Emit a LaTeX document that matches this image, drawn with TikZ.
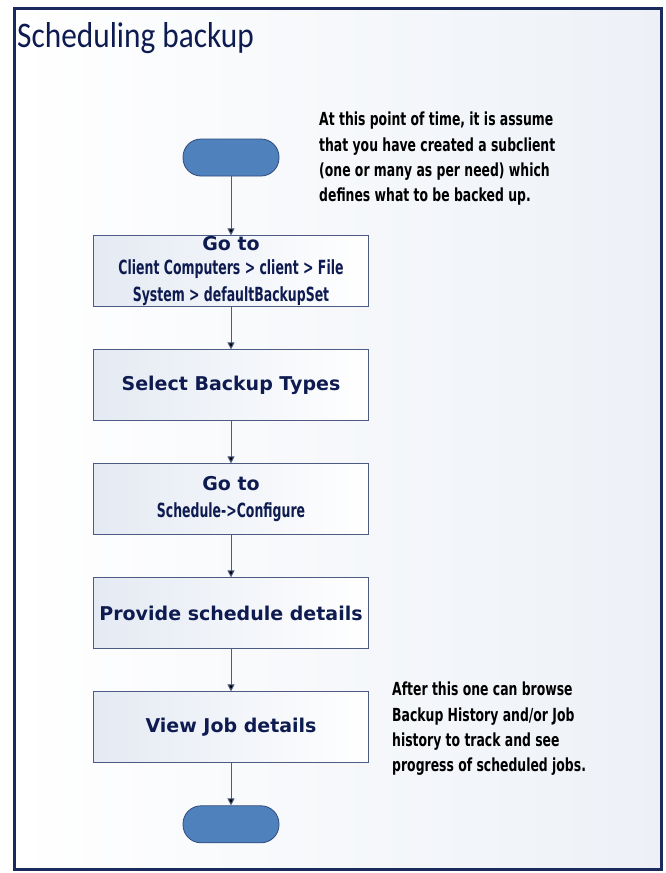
\documentclass[tikz,border=0pt]{standalone}
\usepackage{fontspec}
\setmainfont{Carlito}
\newfontfamily\titlefont[FakeStretch=0.87]{Carlito}
\newfontfamily\boxfont{DejaVu Sans}
\newfontfamily\notefont[FakeStretch=0.64]{DejaVu Sans}
\newfontfamily\commentfont[FakeStretch=0.69]{DejaVu Sans}
\usetikzlibrary{positioning}
\usetikzlibrary{arrows.meta}
\definecolor{navy}{HTML}{0E1B50}
\definecolor{frameblue}{HTML}{1B2A5C}
\definecolor{termblue}{HTML}{4F81BD}
\definecolor{termedge}{HTML}{2E4A7A}
\definecolor{boxedge}{HTML}{4D5B82}
\definecolor{paleblue}{HTML}{E4EAF3}
\definecolor{backblue}{HTML}{EDF1F7}
\tikzset{task node/.style={rectangle,draw=boxedge,line width=1pt,left color=paleblue,right color=white,minimum width=275pt,minimum height=71pt,inner sep=0pt,align=center,text=navy,font=\boxfont\bfseries\fontsize{19}{23}\selectfont},
            end node/.style={rectangle,rounded corners=18pt,draw=termedge,line width=0.8pt,fill=termblue,minimum width=96pt,minimum height=37pt},
            note node/.style={align=left,anchor=north west,inner sep=0pt,font=\commentfont\bfseries\fontsize{18}{25.3}\selectfont},
            flow/.style={draw=boxedge,line width=1pt,-{Triangle[length=7pt,width=7pt]}},
            }
\newcommand\subtext{\notefont\bfseries\fontsize{19.5}{26}\selectfont}

\begin{document}
\begin{tikzpicture}[x=1pt,y=1pt,node distance=42pt]
\useasboundingbox (0,0) rectangle (665,-873);
\path[draw=frameblue,line width=3pt,left color=white,right color=backblue] (14,-8) rectangle (661,-869);
 \node[anchor=base west,text=navy,font=\titlefont\fontsize{36}{40}\selectfont,inner sep=0pt] (title) at (17,-47) {Scheduling backup};

 \node[end node] (start) at (231,-157.5) {};
\node[task node] (goto)[below=59pt of start] {Go to\\[1pt]\subtext Client Computers > client > File\\[4pt]\subtext System > defaultBackupSet};
 \node[task node] (types)[below=of goto] {Select Backup Types};
 \node[task node] (conf)[below=of types] {Go to\\[4pt]\subtext Schedule->Configure};
     \node[task node] (detail)[below=of conf] {Provide schedule details};
    \node[task node] (view)[below=of detail] {View Job details};
    \node[end node] (stop)[below=of view] {};

    \node[note node] (pre) at (319,-112) {At this point of time, it is assume\\that you have created a subclient\\(one or many as per need) which\\defines what to be backed up.};
    \node[note node] (post) at (392,-682) {After this one can browse\\Backup History and/or Job\\history to track and see\\progress of scheduled jobs.};

    \path[flow]
        (start)  edge node {} (goto);
    \path[flow]
        (goto)  edge node {} (types);
    \path[flow]
        (types)  edge node {} (conf);
    \path[flow]
        (conf)  edge node {} (detail);
    \path[flow]
        (detail)  edge node {} (view);
    \path[flow]
        (view)  edge node {} (stop);
\end{tikzpicture}
\end{document}
